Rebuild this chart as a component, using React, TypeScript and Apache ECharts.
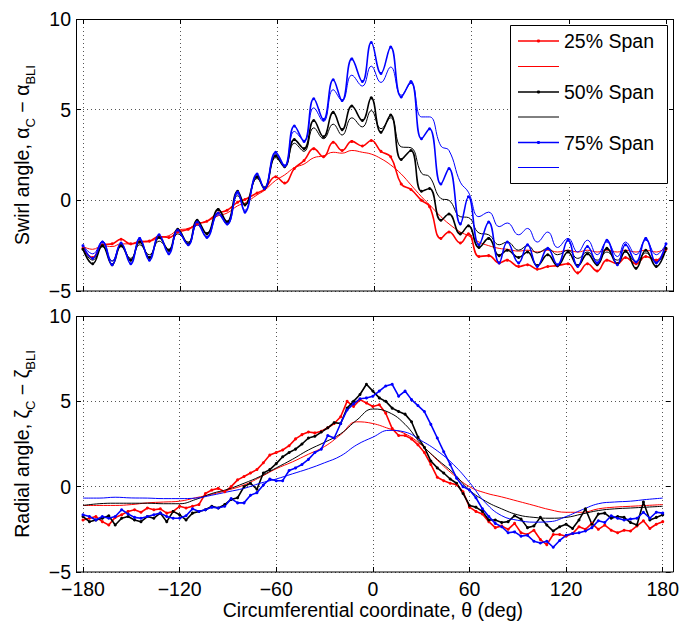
import React, { useEffect, useRef } from "react";
import * as echarts from "echarts";

// ---------- DATA ----------
// Top panel (swirl angle): circumferential positions (deg)
const thetaTop = [
  -180, -174, -168, -162, -156.5, -150.5, -145, -139, -133, -127,
  -121.5, -115, -109.5, -103.5, -96.5, -91, -84.5, -80, -72.5, -68,
  -61, -55.5, -49.5, -43.5, -37.5, -31.5, -25.5, -20, -14, -7.5,
  -2, 4, 10, 16.5, 22.5, 29, 34, 41, 46, 53,
  58, 64.5, 70.5, 77, 82, 89, 94.5, 100.5, 107, 113,
  119.5, 125.5, 131.5, 137.5, 143.5, 150, 155, 161.5, 167.5, 174, 180,
];
const swirl25Measured = [
  -2.65, -3.15, -2.45, -2.4, -2.15, -2.4, -2.3, -2.25, -2.0, -2.05,
  -1.75, -1.6, -1.3, -1.15, -0.7, -0.55, -0.1, 0.05, 0.4, 0.6,
  1.3, 0.95, 1.75, 2.2, 2.85, 2.4, 3.2, 2.75, 3.25, 3.0,
  3.3, 2.7, 2.4, 0.9, 0.6, 0.0, -0.35, -2.1, -1.75, -2.35,
  -1.85, -3.1, -3.05, -3.45, -3.3, -3.65, -3.55, -3.8, -3.65, -3.6,
  -3.5, -4.0, -3.5, -3.9, -3.3, -3.5, -3.15, -3.5, -3.1, -3.3, -2.7,
];
const swirl25Model = [
  -2.55, -2.7, -2.5, -2.55, -2.4, -2.4, -2.25, -2.25, -2.05, -1.95,
  -1.65, -1.55, -1.3, -1.15, -0.85, -0.7, -0.3, -0.15, 0.3, 0.55,
  1.1, 1.4, 1.8, 2.0, 2.35, 2.45, 2.65, 2.6, 2.75, 2.65,
  2.55, 2.3, 1.95, 1.45, 0.85, 0.2, -0.25, -0.9, -1.3, -1.75,
  -1.95, -2.3, -2.5, -2.65, -2.7, -2.8, -2.75, -2.85, -2.75, -2.85,
  -2.75, -2.85, -2.75, -2.85, -2.75, -2.85, -2.75, -2.85, -2.75, -2.85, -2.6,
];
const swirl50Measured = [
  -2.7, -3.5, -2.5, -3.55, -2.5, -3.3, -2.3, -3.15, -2.05, -2.75,
  -1.6, -2.4, -1.1, -1.85, -0.5, -1.2, 0.5, -0.25, 1.3, 0.65,
  2.45, 1.85, 3.35, 2.85, 4.4, 3.5, 4.85, 3.9, 5.2, 4.4,
  5.65, 3.75, 4.7, 2.25, 2.75, 0.5, 0.65, -1.1, -0.75, -1.85,
  -1.4, -2.6, -2.1, -3.05, -2.75, -3.15, -2.85, -3.6, -3.0, -3.6,
  -2.85, -3.6, -2.95, -3.55, -2.65, -3.5, -2.8, -3.75, -2.75, -3.65, -2.65,
];
const swirl50Model = [
  -2.7, -3.3, -2.55, -3.35, -2.55, -3.2, -2.45, -3.0, -2.25, -2.7,
  -1.85, -2.3, -1.35, -1.8, -0.7, -1.15, 0.25, -0.25, 1.2, 0.75,
  2.35, 1.9, 3.15, 2.7, 4.0, 3.4, 4.2, 3.6, 4.55, 4.05,
  4.95, 3.95, 4.55, 2.95, 2.9, 1.5, 1.3, 0.1, 0.0, -0.9,
  -0.95, -1.8, -1.9, -2.45, -2.3, -2.75, -2.5, -2.9, -2.65, -3.0,
  -2.75, -3.2, -2.85, -3.3, -2.85, -3.3, -2.85, -3.4, -2.9, -3.4, -2.75,
];
const swirl75Measured = [
  -2.5, -3.2, -2.3, -3.55, -2.35, -3.5, -2.1, -3.3, -1.9, -2.95,
  -1.65, -2.45, -1.2, -2.05, -0.7, -1.3, 0.45, -0.65, 1.45, 0.65,
  2.65, 1.9, 4.1, 3.25, 5.6, 4.45, 6.65, 5.5, 7.8, 6.55,
  8.7, 7.0, 8.45, 5.7, 6.55, 3.4, 3.95, 0.9, 1.75, -1.3,
  0.2, -2.45, -1.2, -3.45, -2.3, -3.45, -2.45, -3.65, -2.65, -3.55,
  -2.2, -3.65, -2.55, -3.45, -2.2, -3.55, -2.45, -3.4, -2.1, -3.45, -2.4,
];
const swirl75Model = [
  -2.5, -2.95, -2.25, -3.35, -2.4, -3.35, -2.2, -3.15, -2.0, -2.85,
  -1.75, -2.45, -1.35, -2.0, -0.8, -1.35, 0.35, -0.55, 1.35, 0.7,
  2.55, 1.85, 3.8, 3.3, 5.1, 4.35, 6.1, 5.5, 6.9, 6.3,
  7.4, 6.5, 7.35, 5.8, 6.45, 4.6, 4.6, 3.0, 2.75, 1.0,
  0.45, -0.9, -0.65, -1.45, -1.25, -1.9, -1.55, -2.3, -1.75, -2.6,
  -2.1, -2.85, -2.2, -3.0, -2.3, -3.1, -2.3, -3.0, -2.2, -3.0, -2.4,
];

// Bottom panel (radial angle): measured positions (deg)
const thetaBottomMeasured = [
  -180, -176, -172, -168, -164, -160, -156, -152, -148, -144,
  -140, -136, -132, -128, -124, -120, -116, -112, -108, -104,
  -100, -96, -92, -88, -84, -80, -76, -72, -68, -64,
  -60, -56, -52, -48, -44, -40, -36, -32, -28, -24,
  -20, -16, -12, -8, -4, 0, 4, 8, 12, 16,
  20, 24, 28, 32, 36, 40, 44, 48, 52, 56,
  60, 64, 68, 72, 76, 80, 84, 88, 92, 96,
  100, 104, 108, 112, 116, 120, 124, 128, 132, 136,
  140, 144, 148, 152, 156, 160, 164, 168, 172, 176, 180,
];
const radial25Measured = [
  -1.95, -1.85, -1.75, -2.05, -2.25, -1.8, -1.65, -1.45, -1.35, -1.5,
  -1.25, -1.35, -1.3, -1.55, -1.45, -1.15, -1.25, -1.15, -1.05, -0.4,
  -0.2, -0.1, -0.3, 0.0, 0.4, 0.6, 0.8, 1.0, 1.4, 1.85,
  2.0, 2.15, 2.4, 2.8, 3.05, 3.2, 3.15, 3.25, 3.45, 3.7,
  4.1, 5.0, 4.7, 5.1, 4.9, 4.7, 4.8, 4.3, 3.4, 3.0,
  3.0, 2.8, 2.45, 2.0, 1.3, 0.55, 0.35, 0.2, 0.12, -0.3,
  -1.2, -1.45, -1.6, -2.05, -2.4, -2.3, -2.5, -2.15, -2.7, -2.8,
  -2.55, -3.1, -3.4, -2.8, -2.8, -2.9, -2.75, -2.35, -2.5, -2.15,
  -2.5, -2.25, -2.55, -2.7, -2.55, -2.6, -2.3, -2.0, -2.45, -2.2, -2.05,
];
const radial50Measured = [
  -1.75, -2.05, -1.95, -1.85, -1.7, -2.25, -1.85, -1.75, -1.95, -2.05,
  -1.75, -1.85, -1.55, -2.05, -1.45, -1.65, -1.95, -1.55, -1.45, -1.35,
  -1.15, -1.25, -1.05, -0.75, -0.65, 0.0, 0.2, -0.15, 0.8, 1.0,
  1.35, 1.75, 2.0, 2.2, 2.5, 2.85, 2.95, 3.2, 3.45, 3.75,
  3.7, 4.6, 5.0, 5.4, 6.0, 5.6, 5.2, 5.0, 4.6, 4.4,
  4.25, 3.8, 2.9, 2.3, 1.5, 1.1, 0.8, 0.45, 0.2, -0.4,
  -1.1, -1.2, -1.45, -1.95, -1.95, -2.1, -2.05, -1.7, -1.9, -2.4,
  -2.3, -1.8, -2.25, -2.6, -2.35, -2.2, -2.45, -1.95, -1.3, -2.2,
  -1.6, -1.55, -1.85, -1.75, -1.8, -2.1, -2.25, -0.9, -1.95, -1.8, -1.65,
];
const radial75Measured = [
  -1.65, -1.75, -1.95, -1.75, -1.85, -1.75, -1.35, -1.6, -1.8, -1.85,
  -1.75, -1.65, -1.55, -1.75, -1.85, -1.85, -1.7, -1.3, -1.45, -1.35,
  -1.2, -1.25, -1.15, -0.7, -0.95, -0.95, -0.5, -0.35, 0.1, 0.45,
  0.35, 0.35, 0.95, 1.1, 1.3, 1.6, 2.0, 2.2, 3.0, 2.85,
  3.7, 4.5, 4.85, 5.15, 5.2, 5.3, 5.6, 5.9, 6.0, 5.3,
  5.6, 5.1, 4.75, 4.4, 3.65, 2.85, 2.05, 1.3, 0.5, 0.0,
  -0.2, -0.65, -1.3, -1.75, -2.15, -2.35, -2.7, -2.65, -2.9, -2.85,
  -3.2, -3.3, -3.2, -3.55, -3.15, -2.85, -2.75, -2.7, -2.6, -2.4,
  -2.0, -2.1, -1.7, -1.85, -1.95, -1.9, -1.85, -1.5, -1.85, -1.5, -1.55,
];

// Bottom panel model curves (deg)
const thetaBottomModel = [
  -180, -170, -160, -150, -140, -130, -120, -110, -100, -90,
  -80, -70, -60, -50, -40, -30, -20, -10, 0, 10,
  20, 30, 40, 50, 60, 70, 80, 90, 100, 110,
  120, 130, 140, 150, 160, 170, 180,
];
const radial25Model = [
  -1.1, -1.1, -1.1, -1.05, -0.95, -0.9, -0.85, -0.65, -0.45, -0.2,
  0.1, 0.55, 1.05, 1.45, 1.9, 2.35, 3.05, 3.8, 3.7, 3.4,
  3.1, 2.45, 1.55, 0.7, 0.0, -0.37, -0.6, -0.85, -1.1, -1.35,
  -1.5, -1.5, -1.3, -1.2, -1.15, -1.1, -1.05,
];
const radial50Model = [
  -1.1, -1.0, -0.97, -0.97, -0.97, -1.0, -1.0, -0.75, -0.4, -0.15,
  0.2, 0.6, 1.1, 1.6, 2.15, 2.6, 3.1, 3.9, 4.55, 4.35,
  3.65, 2.5, 1.6, 0.8, -0.2, -0.85, -1.3, -1.65, -1.8, -1.85,
  -1.8, -1.6, -1.4, -1.3, -1.25, -1.2, -1.15,
];
const radial75Model = [
  -0.67, -0.67, -0.62, -0.66, -0.67, -0.7, -0.7, -0.67, -0.5, -0.3,
  -0.1, 0.2, 0.45, 0.75, 1.05, 1.4, 1.8, 2.45, 2.9, 3.3,
  3.2, 2.7, 2.1, 1.3, 0.25, -0.95, -1.7, -1.97, -2.08, -2.05,
  -1.75, -1.35, -1.0, -0.9, -0.85, -0.75, -0.67,
];

const legendLabels = ["25% Span", "", "50% Span", "", "75% Span", ""];
const xTickRange = { min: -180, max: 180, interval: 60 };
const yTickRange = { min: -5, max: 10, interval: 5 };

// ---------- STYLE ----------
const FONT = '"Liberation Sans", Arial, Helvetica, sans-serif';
const FS = 19.5;
const RED = "#ff0000";
const BLACK = "#000000";
const BLUE = "#0000ff";

const minus = (v: number) => String(v).replace("-", "\u2212");
const pairs = (xs: number[], ys: number[]) => xs.map((x, i) => [x, ys[i]]);

const gridLine = { show: true, lineStyle: { color: "#555", type: [1, 3] as any, width: 1 } };
const tick = { show: true, inside: true, length: 5, lineStyle: { color: "#000", width: 1 } };
const noLine = { show: false, onZero: false };

function xAxesFor(gridIndex: number, showLabels: boolean, name: string) {
  return [
    {
      type: "value",
      gridIndex,
      ...xTickRange,
      position: "bottom",
      axisLine: noLine,
      axisTick: tick,
      axisLabel: { show: showLabels, formatter: minus, fontSize: FS, fontFamily: FONT, color: "#000", margin: 7 },
      splitLine: gridLine,
      name,
      nameLocation: "middle",
      nameGap: 23,
      nameTextStyle: { fontSize: FS, fontFamily: FONT, color: "#000" },
    },
    {
      type: "value",
      gridIndex,
      ...xTickRange,
      position: "top",
      axisLine: noLine,
      axisTick: tick,
      axisLabel: { show: false },
      splitLine: { show: false },
    },
  ];
}

function yAxesFor(gridIndex: number, name: string) {
  return [
    {
      type: "value",
      gridIndex,
      ...yTickRange,
      position: "left",
      offset: 7,
      axisLine: noLine,
      axisTick: tick,
      axisLabel: { formatter: minus, fontSize: FS, fontFamily: FONT, color: "#000", margin: 5 },
      splitLine: gridLine,
      name,
      nameLocation: "middle",
      nameRotate: 90,
      nameGap: 39,
      nameTextStyle: {
        rich: {
          t: { fontSize: FS, fontFamily: FONT, color: "#000", lineHeight: 30, verticalAlign: "middle" },
          s: { fontSize: 13, fontFamily: FONT, color: "#000", lineHeight: 14, verticalAlign: "bottom" },
        },
      },
    },
    {
      type: "value",
      gridIndex,
      ...yTickRange,
      position: "right",
      offset: 8,
      axisLine: noLine,
      axisTick: tick,
      axisLabel: { show: false },
      splitLine: { show: false },
    },
  ];
}

function measured(name: string, color: string, data: number[][], xi: number, yi: number, smooth: boolean) {
  return {
    type: "line",
    name,
    xAxisIndex: xi,
    yAxisIndex: yi,
    data,
    smooth: smooth ? 0.45 : false,
    symbol: "circle",
    symbolSize: 3,
    showSymbol: true,
    lineStyle: { color, width: 1.6 },
    itemStyle: { color },
    z: 3,
  };
}
function model(name: string, color: string, data: number[][], xi: number, yi: number) {
  return {
    type: "line",
    name,
    xAxisIndex: xi,
    yAxisIndex: yi,
    data,
    smooth: 0.45,
    showSymbol: false,
    symbol: "none",
    lineStyle: { color, width: 1 },
    itemStyle: { color },
    z: 3,
  };
}

function legendGraphic() {
  const colors = [RED, RED, BLACK, BLACK, BLUE, BLUE];
  const rowY = [41, 66.5, 92, 117, 142.5, 167.5];
  const els: any[] = [
    {
      type: "rect",
      shape: { x: 510.5, y: 25.5, width: 157, height: 158 },
      style: { fill: "#fff", stroke: "#000", lineWidth: 1 },
      z: 100,
    },
  ];
  legendLabels.forEach((label, i) => {
    const y = rowY[i];
    els.push({
      type: "line",
      shape: { x1: 518, y1: y, x2: 559, y2: y },
      style: { stroke: colors[i], lineWidth: i % 2 === 0 ? 1.6 : 1 },
      z: 101,
    });
    if (i % 2 === 0) {
      els.push({ type: "circle", shape: { cx: 538.5, cy: y, r: 1.6 }, style: { fill: colors[i] }, z: 102 });
    }
    if (label) {
      els.push({
        type: "text",
        x: 564,
        y: y,
        style: { text: label, fontSize: FS, fontFamily: FONT, fill: "#000", verticalAlign: "middle", align: "left" },
        z: 102,
      });
    }
  });
  return els;
}

function buildOption() {
  const topGrid = { left: 83, top: 19, width: 583, height: 272 };
  const botGrid = { left: 83, top: 316, width: 583, height: 256 };
  return {
    animation: false,
    backgroundColor: "#fff",
    grid: [topGrid, botGrid],
    xAxis: [...xAxesFor(0, false, ""), ...xAxesFor(1, true, "Circumferential coordinate, \u03b8 (deg)")],
    yAxis: [
      ...yAxesFor(0, "{t|Swirl angle, \u03b1}{s|C}{t| \u2212 \u03b1}{s|BLI}"),
      ...yAxesFor(1, "{t|Radial angle, \u03b6}{s|C}{t| \u2212 \u03b6}{s|BLI}"),
    ],
    series: [
      measured("25% Span", RED, pairs(thetaTop, swirl25Measured), 0, 0, true),
      model("25% model", RED, pairs(thetaTop, swirl25Model), 0, 0),
      measured("50% Span", BLACK, pairs(thetaTop, swirl50Measured), 0, 0, true),
      model("50% model", BLACK, pairs(thetaTop, swirl50Model), 0, 0),
      measured("75% Span", BLUE, pairs(thetaTop, swirl75Measured), 0, 0, true),
      model("75% model", BLUE, pairs(thetaTop, swirl75Model), 0, 0),
      measured("25% Span r", RED, pairs(thetaBottomMeasured, radial25Measured), 2, 2, false),
      model("25% model r", RED, pairs(thetaBottomModel, radial25Model), 2, 2),
      measured("50% Span r", BLACK, pairs(thetaBottomMeasured, radial50Measured), 2, 2, false),
      model("50% model r", BLACK, pairs(thetaBottomModel, radial50Model), 2, 2),
      measured("75% Span r", BLUE, pairs(thetaBottomMeasured, radial75Measured), 2, 2, false),
      model("75% model r", BLUE, pairs(thetaBottomModel, radial75Model), 2, 2),
    ],
    graphic: {
      elements: [
        {
          type: "rect",
          shape: { x: 76.5, y: 19.5, width: 597, height: 271.5 },
          style: { fill: "none", stroke: "#000", lineWidth: 1 },
          z: 90,
        },
        {
          type: "rect",
          shape: { x: 76.5, y: 316.5, width: 597, height: 255.5 },
          style: { fill: "none", stroke: "#000", lineWidth: 1 },
          z: 90,
        },
        ...legendGraphic(),
      ],
    },
  };
}

export default function App() {
  const ref = useRef<HTMLDivElement>(null);
  useEffect(() => {
    if (!ref.current) return;
    const chart = echarts.init(ref.current, null, { renderer: "svg" });
    chart.setOption(buildOption() as any);
    return () => chart.dispose();
  }, []);
  return (
    <div
      ref={ref}
      style={{ position: "absolute", left: 0, top: 0, width: 682, height: 624, background: "#fff" }}
    />
  );
}
